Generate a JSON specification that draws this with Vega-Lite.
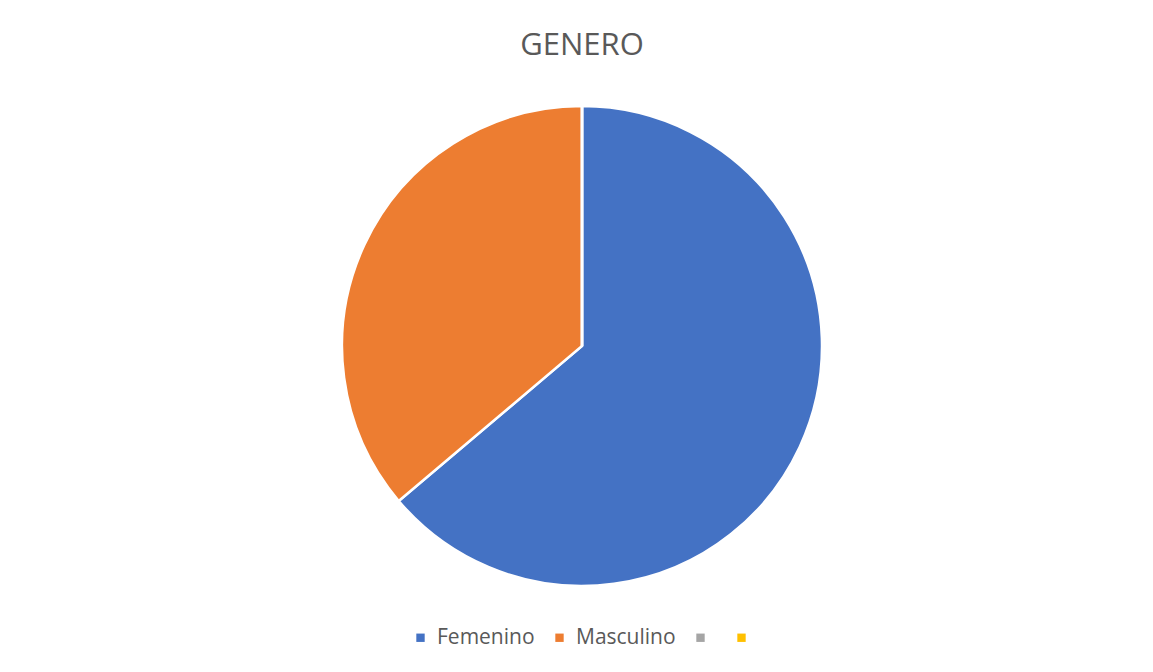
{
  "$schema": "https://vega.github.io/schema/vega-lite/v6.json",
  "width": 1153,
  "height": 672,
  "autosize": {"type": "fit", "contains": "padding"},
  "padding": {"top": 30, "bottom": 52, "left": 11, "right": 0},
  "background": "white",
  "config": {"view": {"stroke": null}},
  "title": {"text": "GENERO", "fontSize": 31, "font": "Open Sans", "fontWeight": "normal", "color": "#595959", "offset": 10},
  "data": {"values": [
    {"genero": "Femenino", "n": 30, "o": 1},
    {"genero": "Masculino", "n": 17, "o": 2},
    {"genero": "", "n": 0, "o": 3},
    {"genero": " ", "n": 0, "o": 4}
  ]},
  "mark": {"type": "arc", "outerRadius": 240, "stroke": "white", "strokeWidth": 2.5},
  "encoding": {
    "theta": {"field": "n", "type": "quantitative", "stack": true},
    "order": {"field": "o", "type": "quantitative"},
    "color": {
      "field": "genero", "type": "nominal",
      "scale": {"domain": ["Femenino", "Masculino", "", " "], "range": ["#4472c4", "#ed7d31", "#a5a5a5", "#ffc000"]},
      "legend": {"orient": "none", "legendX": 399, "legendY": 555, "direction": "horizontal", "title": null, "symbolType": "square", "symbolSize": 70, "labelFontSize": 21, "labelFont": "Open Sans", "labelColor": "#595959", "columnPadding": 14, "symbolStrokeWidth": 0, "labelOffset": 6}
    }
  }
}
